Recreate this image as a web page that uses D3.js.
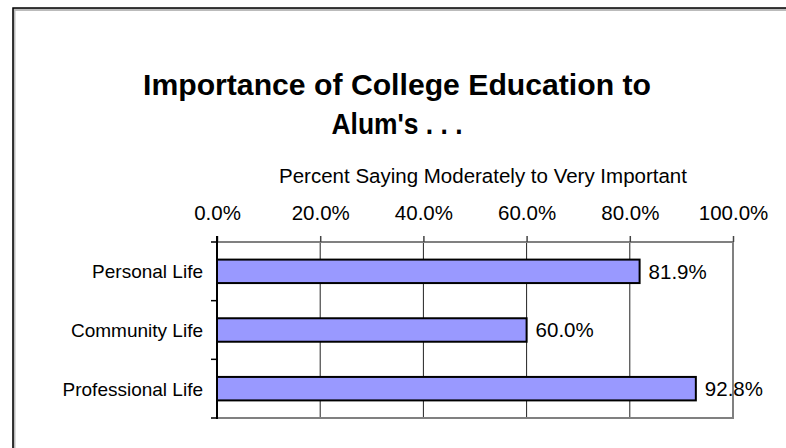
<!DOCTYPE html>
<html>
<head>
<meta charset="utf-8">
<script src="https://cdn.jsdelivr.net/npm/d3@7"></script>
<style>
	body { margin: 0; background: #fff; }
	svg text { font-family: "Liberation Sans", Arial, sans-serif; fill: #000; }
</style>
</head>
<body>
<svg id="chart" width="786" height="448"></svg>
<script>
let categories = ['Personal Life', 'Community Life', 'Professional Life'];
let values = [81.9, 60.0, 92.8];
let ticks = [0, 20, 40, 60, 80, 100];
let titleLines = ['Importance of College Education to', "Alum's . . ."];
let axisTitle = 'Percent Saying Moderately to Very Important';

let margin = { top: 242, left: 217, right: 53, bottom: 30 };
let width = 786 - margin.left - margin.right;
let height = 418 - margin.top;

let svg = d3.select('svg#chart');

// outer chart border (cut off at right / bottom)
svg.append('path')
	.attr('d', 'M13,448 V8.5 H786')
	.attr('fill', 'none')
	.attr('stroke', '#bbb')
	.attr('stroke-width', 3)
	.attr('transform', 'translate(1,1)');
svg.append('path')
	.attr('d', 'M13,448 V8 H786')
	.attr('fill', 'none')
	.attr('stroke', '#000')
	.attr('stroke-width', 1.5);

// title (the original face is a bit condensed)
svg.append('g').selectAll('text')
	.data(titleLines)
	.join('text')
	.attr('x', 397)
	.attr('y', (d, i) => 95 + i * 39)
	.attr('text-anchor', 'middle')
	.attr('font-size', 30)
	.attr('font-weight', 'bold')
	.attr('lengthAdjust', 'spacingAndGlyphs')
	.attr('textLength', (d, i) => i == 0 ? 508 : 131)
	.text(d => d);

let g = svg.append('g').attr('transform', 'translate(' + margin.left + ',' + margin.top + ')');

let x = d3.scaleLinear([0, 100], [0, width]);
let y = d3.scaleBand(categories, [0, height]).paddingInner(0.6).paddingOuter(0.3);
let band = d3.scaleBand(categories, [0, height]);

// gridlines
g.append('g').selectAll('line')
	.data(ticks.slice(1, -1))
	.join('line')
	.attr('x1', d => x(d)).attr('x2', d => x(d))
	.attr('y1', 0).attr('y2', height)
	.attr('stroke', '#222')
	.attr('stroke-width', 1);

// plot frame: top, right, bottom in gray
g.append('path')
	.attr('d', 'M0,0 H' + x(100) + ' V' + height + ' H0')
	.attr('fill', 'none')
	.attr('stroke', '#808080')
	.attr('stroke-width', 2);

// top axis
let xAxis = d3.axisTop(x)
	.tickValues(ticks)
	.tickSize(6)
	.tickPadding(16)
	.tickFormat(d => d.toFixed(1) + '%');
let ax = g.append('g').call(xAxis);
ax.select('.domain').remove();
ax.selectAll('.tick line').attr('stroke', '#444').attr('stroke-width', 1.5);
ax.selectAll('.tick text')
	.attr('font-size', 20.5)
	.attr('font-family', '"Liberation Sans", Arial, sans-serif')
	.attr('dy', '0em');

// axis title
g.append('text')
	.attr('x', x(50) + 8)
	.attr('y', 183 - margin.top)
	.attr('text-anchor', 'middle')
	.attr('font-size', 20.5)
	.text(axisTitle);

// bars
g.append('g').selectAll('rect')
	.data(values)
	.join('rect')
	.attr('x', 0)
	.attr('y', (d, i) => y(categories[i]))
	.attr('width', d => x(d))
	.attr('height', y.bandwidth())
	.attr('fill', '#9999FF')
	.attr('stroke', '#000')
	.attr('stroke-width', 2);

// value labels
g.append('g').selectAll('text')
	.data(values)
	.join('text')
	.attr('x', d => x(d) + 9)
	.attr('y', (d, i) => y(categories[i]) + y.bandwidth() / 2)
	.attr('dy', '0.36em')
	.attr('font-size', 20.5)
	.text(d => d.toFixed(1) + '%');

// left axis
let bounds = [0].concat(categories.map(c => band(c) + band.bandwidth()));
g.append('g').selectAll('line')
	.data(bounds)
	.join('line')
	.attr('x1', -6).attr('x2', 0)
	.attr('y1', d => d).attr('y2', d => d)
	.attr('stroke', '#000')
	.attr('stroke-width', 1.5);
g.append('line')
	.attr('x1', 0).attr('x2', 0)
	.attr('y1', -6).attr('y2', height + 1)
	.attr('stroke', '#000')
	.attr('stroke-width', 2);

g.append('g').selectAll('text')
	.data(categories)
	.join('text')
	.attr('x', -14)
	.attr('y', d => band(d) + band.bandwidth() / 2)
	.attr('dy', '0.36em')
	.attr('text-anchor', 'end')
	.attr('font-size', 19)
	.text(d => d);
</script>
</body>
</html>
